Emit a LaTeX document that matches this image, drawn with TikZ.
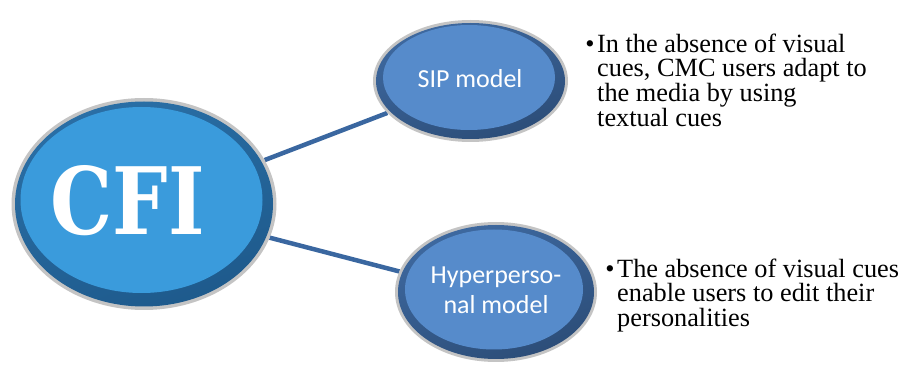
\documentclass[tikz,border=0pt]{standalone}
\usepackage{fontspec}
\setmainfont{Liberation Serif}
\newfontfamily\calib{Carlito}
\newfontfamily\slabfont{DejaVu Serif}
\usetikzlibrary{shapes.geometric}

\definecolor{rimgray}{HTML}{C4C4C4}
\definecolor{cfiedge}{HTML}{2A6FA6}
\definecolor{cfiedgedark}{HTML}{1E5A8C}
\definecolor{cfifill}{HTML}{3A9BDC}
\definecolor{modeledge}{HTML}{3E69A0}
\definecolor{modeledgedark}{HTML}{2C4D78}
\definecolor{modelfill}{HTML}{568BCB}
\definecolor{linkblue}{HTML}{3A67A0}

\tikzset{
  oval/.style={ellipse, inner sep=0pt, outer sep=0pt, draw=none},
  link/.style={draw=linkblue, line width=4.5pt},
  modeltext/.style={text=white, font=\calib\fontsize{26}{30}\selectfont, align=center, inner sep=0pt},
  bullettext/.style={font=\fontsize{26.3}{24.6}\selectfont, align=left, inner sep=0pt, anchor=north west}
}

\begin{document}
\begin{tikzpicture}[x=1pt, y=-1pt]
  \useasboundingbox (0,0) rectangle (906,374);

  % ellipse outlines used as connector end points
  \node[oval, minimum width=265pt, minimum height=212pt] (cfi) at (144,204) {};
  \node[oval, minimum width=195pt, minimum height=122pt] (sip) at (470.5,81) {};
  \node[oval, minimum width=202pt, minimum height=140pt] (hyp) at (496,292) {};

  % connectors
  \draw[link] (cfi.20.8) -- (sip.201.2);
  \draw[link] (cfi.-15.7) -- (hyp.168.5);

  % CFI bevelled ellipse
  \fill[rimgray] (cfi.center) ellipse (132.5pt and 106pt);
  \shade[top color=cfiedge, bottom color=cfiedgedark, shading angle=20]
    (cfi.center) ellipse (129pt and 102.5pt);
  \fill[cfifill] (141.5,200) ellipse (121pt and 93pt);

  % SIP model bevelled ellipse
  \fill[rimgray] (sip.center) ellipse (97.5pt and 61pt);
  \shade[top color=modeledge, bottom color=modeledgedark, shading angle=20]
    (sip.center) ellipse (94.5pt and 58pt);
  \fill[modelfill] (469,77.5) ellipse (86pt and 52.5pt);

  % Hyperpersonal model bevelled ellipse
  \fill[rimgray] (hyp.center) ellipse (101pt and 70pt);
  \shade[top color=modeledge, bottom color=modeledgedark, shading angle=20]
    (hyp.center) ellipse (98pt and 67pt);
  \fill[modelfill] (494,289.5) ellipse (89pt and 60pt);

  % labels inside the ellipses
  \node[text=white, font=\slabfont\bfseries\fontsize{93}{93}\selectfont, inner sep=0pt, anchor=base]
    (cfilabel) at (127.5,235) {\scalebox{0.84}[1]{CFI}};
  \node[modeltext, anchor=base] (siplabel) at (470,88) {SIP model};
  \node[modeltext, anchor=north] (hyplabel) at (496,266.5) {Hyperperso-\\nal model};

  % explanatory bullet points
  \node[bullettext] (siptext) at (597,33.5)
    {\llap{\textbullet\hspace{2.5pt}}In the absence of visual\\cues, CMC users adapt to\\the media by using\\textual cues};
  \node[bullettext] (hyptext) at (617,258.5)
    {\llap{\textbullet\hspace{2.5pt}}The absence of visual cues\\enable users to edit their\\personalities};
\end{tikzpicture}
\end{document}
